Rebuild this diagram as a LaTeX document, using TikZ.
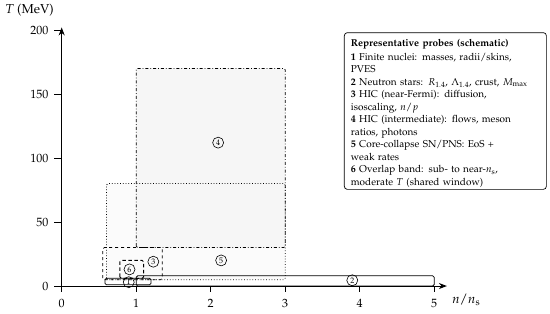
\documentclass[tikz,border=0pt]{standalone}
\usepackage[T1]{fontenc}
\usepackage{mathpazo}
\usetikzlibrary{arrows.meta}
\begin{document}
\begin{tikzpicture}[x=74.5pt,y=1.28pt,
  axisline/.style={line width=0.9pt,-{Stealth[length=8pt,width=6pt]}},
  tickline/.style={line width=0.7pt},
  ticklbl/.style={font=\fontsize{12}{14}\selectfont, inner sep=0pt},
  axlbl/.style={font=\fontsize{13}{15}\selectfont, inner sep=0pt},
  region/.style={line width=0.75pt, rounded corners=1.5pt},
  tag/.style={circle, draw, line width=0.6pt, inner sep=0pt, minimum size=11pt, font=\fontsize{8}{9}\selectfont},
  legframe/.style={draw, line width=0.7pt, rounded corners=3pt, fill=white, minimum width=202pt, minimum height=156.7pt, inner sep=0pt},
  legtext/.style={text width=190pt, align=left, inner sep=0pt, font=\fontsize{10}{12.5}\selectfont}]
\useasboundingbox (-0.828,-21.09) rectangle (6.554,223.44);

% region fills
\fill[gray!3, rounded corners=1.5pt] (0.6,5) rectangle (3,80);
\fill[gray!7, rounded corners=1.5pt] (1,30) rectangle (3,170);

% region outlines
\draw[region, dotted] (0.6,5) rectangle (3,80);          % 5
\draw[region, dash dot] (1,30) rectangle (3,170);        % 4
\draw[region, dashed] (0.55,5) rectangle (1.35,30);      % 3
\draw[region, line width=0.9pt, dash pattern=on 3.5pt off 2.5pt] (0.78,6) rectangle (1.1,20); % 6
\draw[region] (0.58,1) rectangle (1.2,6);                % 1
\draw[region] (1,0) rectangle (5,8);                     % 2

% tags
\node[tag] (t1) at (0.9,3) {1};
\node[tag] (t2) at (3.9,4.5) {2};
\node[tag] (t3) at (1.23,19) {3};
\node[tag] (t4) at (2.1,112) {4};
\node[tag] (t5) at (2.14,20) {5};
\node[tag] (t6) at (0.91,13) {6};

% axes
\coordinate (O) at (0,0);
\coordinate (xend) at (5.17,0);
\coordinate (yend) at (0,202);
\draw[axisline] (O) -- (xend);
\draw[axisline] (O) -- (yend);

\foreach \i in {0,...,5}{
  \draw[tickline] (\i,0) -- ++(0pt,-6pt);
  \node[ticklbl, anchor=north] (xl\i) at ([yshift=-13pt]\i,0) {\i};
}
\foreach \t in {0,50,100,150,200}{
  \draw[tickline] (0,\t) -- ++(-8pt,0pt);
  \node[ticklbl, anchor=east] (yl\t) at ([xshift=-13pt]0,\t) {\t};
}

\node[axlbl] (xlab) at (5.43,-10.9) {$n/n_{\mathrm{s}}$};
\node[axlbl] (ylab) at (-0.432,215.6) {$T$ (MeV)};

% legend
\node[legframe, anchor=north west] (legbox) at (3.789,198.2) {};
\node[legtext, anchor=north west] (legend) at ([xshift=6.7pt,yshift=-6.5pt]legbox.north west) {%
\textbf{Representative probes (schematic)}\\[1.5pt]
\textbf{1} Finite nuclei: masses, radii/skins,\\
PVES\\
\textbf{2} Neutron stars: $R_{1.4}$, $\Lambda_{1.4}$, crust, $M_{\max}$\\
\textbf{3} HIC (near-Fermi): diffusion,\\
isoscaling, $n/p$\\
\textbf{4} HIC (intermediate): flows, meson\\
ratios, photons\\
\textbf{5} Core-collapse SN/PNS: EoS +\\
weak rates\\
\textbf{6} Overlap band: sub- to near-$n_{\mathrm{s}}$,\\
moderate $T$ (shared window)};
\end{tikzpicture}
\end{document}
